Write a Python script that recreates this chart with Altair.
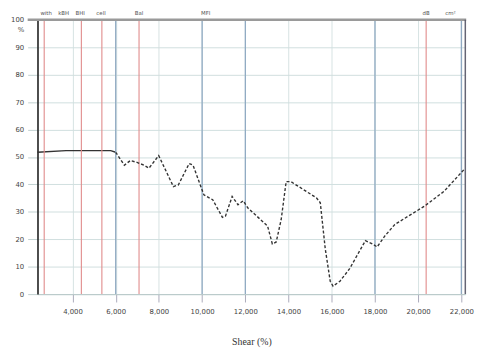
import altair as alt
import pandas as pd

# ---- data ----
solid_x = [2380, 3700, 5770, 6000]
solid_y = [51.7, 52.3, 52.3, 51.7]

dashed_x = [6000, 6400, 6680, 6990, 7310, 7540, 7990, 8670, 8900, 9400, 9580,
            10080, 10490, 10940, 11080, 11390, 11660, 11900, 12120, 13030,
            13250, 13430, 13660, 13890, 14110, 15290, 15470, 15700, 15930,
            16060, 16380, 16830, 17560, 17880, 18100, 18470, 18920, 20280,
            21190, 22170]
dashed_y = [51.7, 47.0, 48.7, 48.0, 47.0, 45.9, 50.5, 39.2, 39.8, 47.6, 47.0,
            36.2, 34.4, 28.0, 28.4, 35.6, 32.6, 34.0, 31.4, 24.8,
            18.3, 19.0, 27.2, 41.0, 41.0, 35.1, 33.3, 16.5, 4.7,
            2.9, 4.7, 9.3, 19.5, 18.3, 17.2, 21.3, 25.4, 32.0,
            37.4, 45.8]

x_ticks = [4000, 6000, 8000, 10000, 12000, 14000, 16000, 18000, 20000, 22000]
y_ticks = [0, 10, 20, 30, 40, 50, 60, 70, 80, 90, 100]

red_lines = [2690, 4410, 5360, 7080, 20370]
blue_lines = [6000, 10000, 12000, 18000, 22000]

top_label_text = ["with", "kBH", "BHI", "cell", "Bal", "MFI", "dB", "cm²"]
top_label_x = [2780, 3590, 4360, 5320, 7080, 10170, 20370, 21500]

x_title = "Shear (%)"
y_title = "%"

X_DOMAIN = [2380, 22180]

solid_df = pd.DataFrame({"x": solid_x, "y": solid_y})
dashed_df = pd.DataFrame({"x": dashed_x, "y": dashed_y})
red_df = pd.DataFrame({"x": red_lines})
blue_df = pd.DataFrame({"x": blue_lines})
lab_df = pd.DataFrame({"x": top_label_x, "t": top_label_text})

xs = alt.Scale(domain=X_DOMAIN, nice=False, zero=False)
ys = alt.Scale(domain=[0, 100], nice=False)

x_axis = alt.Axis(values=x_ticks, labelExpr="format(datum.value, ',')",
                  title=x_title,
                  grid=True, gridColor="#d6e2e2", gridWidth=1,
                  tickSize=8, tickColor="#aab", labelPadding=6,
                  labelFont="DejaVu Sans", labelFontSize=7,
                  labelColor="#444", domain=True,
                  domainColor="#b8c8c8", labelOverlap=False,
                  titleFont="Liberation Serif", titleFontSize=10,
                  titleFontWeight="normal", titleColor="#333",
                  titlePadding=22)
y_axis = alt.Axis(values=y_ticks, title=y_title, grid=True,
                  gridColor="#d0dede", tickSize=10,
                  tickColor="#c0d0d0", labelPadding=4,
                  labelFont="DejaVu Sans", labelFontSize=7,
                  labelColor="#444", domainColor="#222",
                  domainWidth=1.6, titleAngle=0, labelOverlap=False,
                  titleAlign="right", titleBaseline="middle",
                  titleX=-14, titleY=10, titleFontSize=7,
                  titleFont="DejaVu Sans",
                  titleFontWeight="normal", titleColor="#444")

X = alt.X("x:Q", scale=xs, axis=x_axis)
Y = alt.Y("y:Q", scale=ys, axis=y_axis)

blue = alt.Chart(blue_df).mark_rule(color="#8fa9c2", strokeWidth=1.3).encode(x=X)
red = alt.Chart(red_df).mark_rule(color="#e08a8a", strokeWidth=1.1).encode(x=X)

top = alt.Chart().mark_rule(color="#9a9a9a", strokeWidth=2.5).encode(
    y=alt.value(0), x=alt.value(-10), x2=alt.value(436))
right1 = alt.Chart().mark_rule(color="#556", strokeWidth=1.3).encode(
    x=alt.value(435), y=alt.value(0), y2=alt.value(279))

solid = alt.Chart(solid_df).mark_line(color="#333", strokeWidth=1.4).encode(
    x=X, y=Y)
dashed = alt.Chart(dashed_df).mark_line(color="#333", strokeWidth=1.4,
                                        strokeDash=[3, 2]).encode(x=X, y=Y)

labels = alt.Chart(lab_df).mark_text(fontSize=5.5, baseline="bottom",
                                     align="center", color="#555",
                                     font="DejaVu Sans").encode(
    x=X, y=alt.value(-4), text="t:N")

chart = alt.layer(solid, blue, red, dashed, top, right1, labels).properties(
    width=435, height=279,
    autosize=alt.AutoSizeParams(type="none"),
    padding={"left": 30, "top": 9, "right": 15, "bottom": 62},
).configure_view(stroke=None).configure(background="white")

chart.save("out.html", embed_options={"renderer": "svg", "actions": False})
